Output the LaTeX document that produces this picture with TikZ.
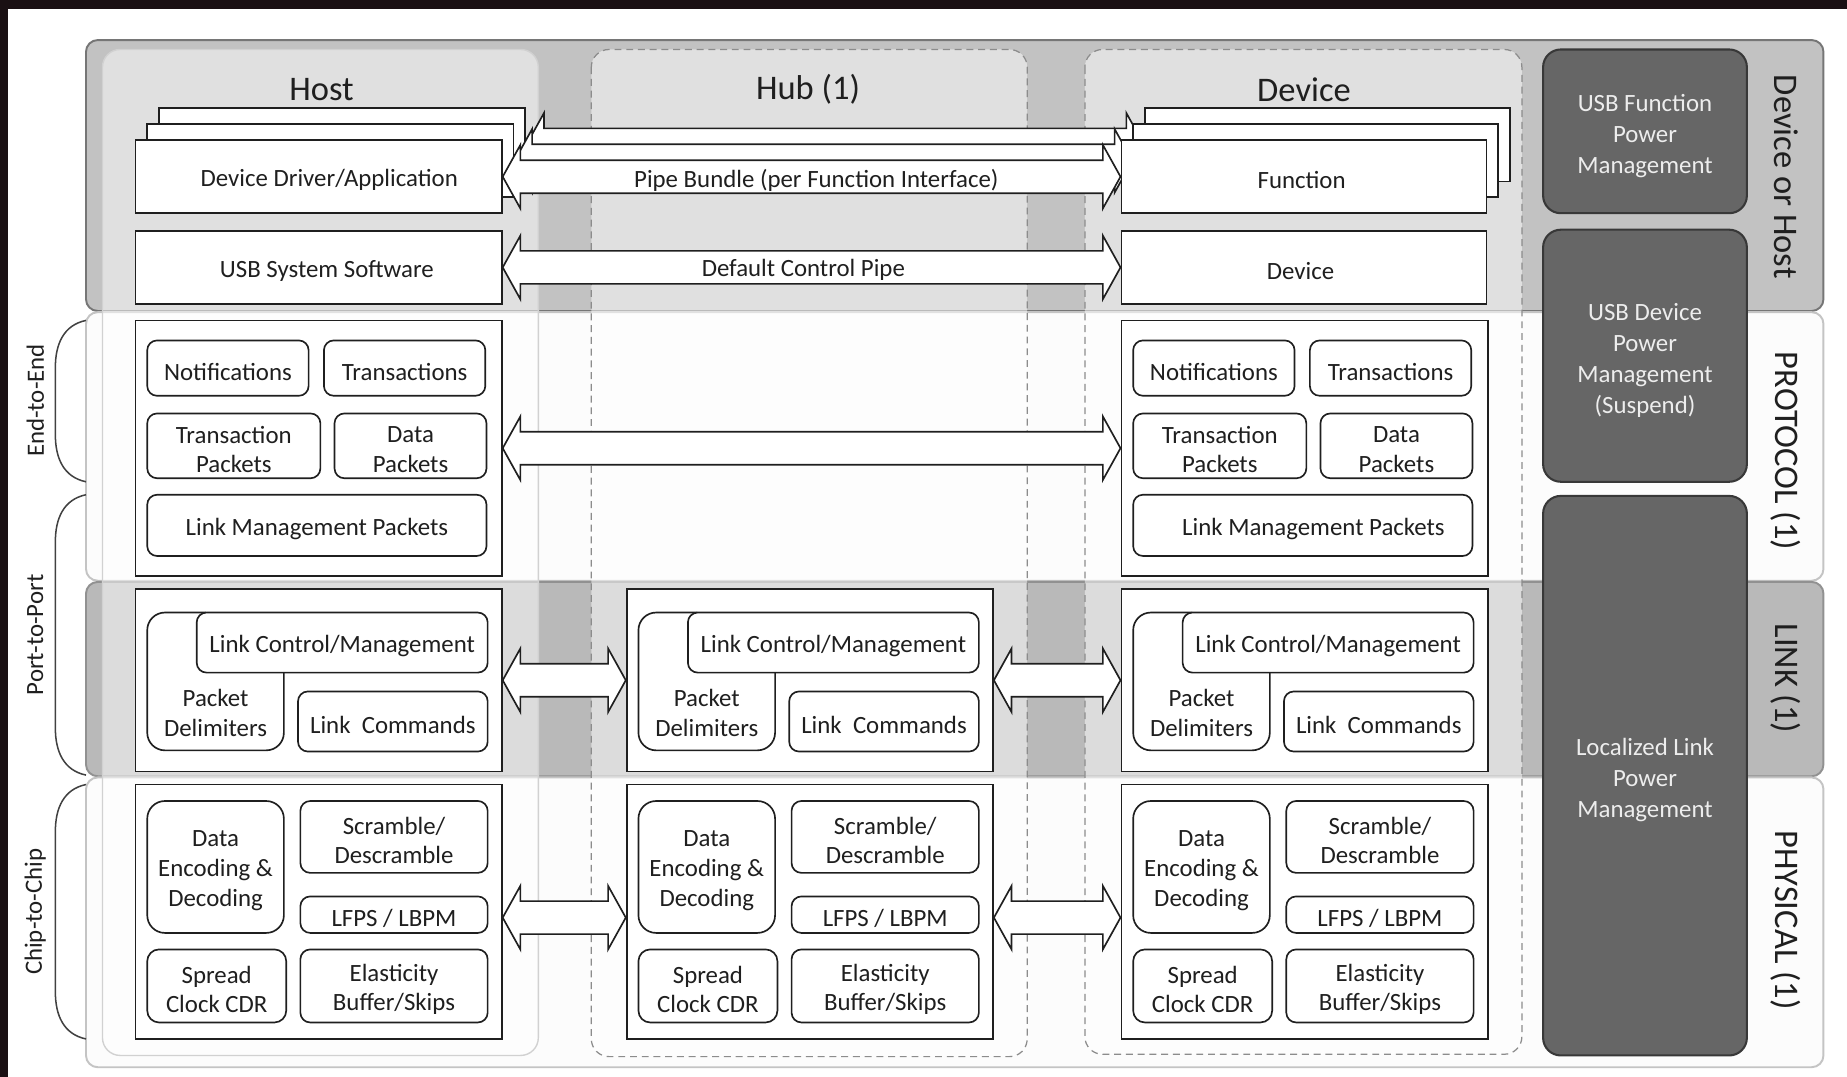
\documentclass[tikz,border=0pt]{standalone}
\usepackage{fontspec}
\setmainfont{Carlito}
\usetikzlibrary{calc}

\definecolor{pagedark}{HTML}{1A1013}
\definecolor{bandgray}{HTML}{C2C2C2}
\definecolor{linkgray}{HTML}{B9B9B9}
\definecolor{bandedge}{HTML}{767676}
\definecolor{paleband}{HTML}{FCFCFC}
\definecolor{paleedge}{HTML}{C4C4C4}
\definecolor{pmfill}{HTML}{666666}
\definecolor{pmedge}{HTML}{383838}
\definecolor{pmtext}{HTML}{EDEDED}
\definecolor{ink}{HTML}{1F1F1F}

% box from its corners (x1,y1)-(x2,y2) in picture units; its text sits
% slightly below the centre, shifted right by #7 units
\newcommand\pbox[8][]{%
  \node[#1, minimum width={((#5)-(#3))*0.03cm}, minimum height={((#6)-(#4))*0.03cm}]
    (#2) at ({((#3)+(#5))/2},{((#4)+(#6))/2}) {};
  \node[boxtext] (#2txt) at ($(#2.center)+(#7,3)$) {#8};}

% dark power-management block with its label
\newcommand\pmblock[6]{%
  \node[pmbox, minimum width={((#4)-(#2))*0.03cm}, minimum height={((#5)-(#3))*0.03cm}]
    (#1) at ({((#2)+(#4))/2},{((#3)+(#5))/2}) {};
  \node[pmlabel] (#1txt) at ($(#1.center)+(0,4)$) {#6};}

% double-headed block arrow between two anchors
\def\arrHl{0.45cm}\def\arrHh{0.81cm}\def\arrSh{0.42cm}
\newcommand\dblarrow[2]{%
  \draw[pipearrow] let \p1=(#1), \p2=(#2) in
    (\x1,\y1) -- (\x1+\arrHl,\y1+\arrHh) -- (\x1+\arrHl,\y1+\arrSh)
    -- (\x2-\arrHl,\y1+\arrSh) -- (\x2-\arrHl,\y1+\arrHh) -- (\x2,\y1)
    -- (\x2-\arrHl,\y1-\arrHh) -- (\x2-\arrHl,\y1-\arrSh)
    -- (\x1+\arrHl,\y1-\arrSh) -- (\x1+\arrHl,\y1-\arrHh) -- cycle;}

% protocol layer block, x offset #2, shift of the last label #3
\newcommand\protocolstack[3]{%
  \pbox[wbox]{#1Prot}{115+#2}{272}{426+#2}{489}{0}{}
  \pbox[rbox]{#1Notif}{125+#2}{289}{262+#2}{336}{0}{Notifications}
  \pbox[rbox]{#1Trans}{275+#2}{289}{412+#2}{336}{0}{Transactions}
  \pbox[rbox]{#1TP}{125+#2}{351}{272+#2}{406}{0}{Transaction\\Packets}
  \pbox[rbox]{#1DP}{284+#2}{351}{413+#2}{406}{0}{Data\\Packets}
  \pbox[rbox]{#1LMP}{125+#2}{420}{413+#2}{472}{#3}{Link Management Packets}}

% link layer block
\newcommand\linkstack[2]{%
  \pbox[wbox]{#1Link}{115+#2}{500}{426+#2}{655}{0}{}
  \draw[draw=ink, line width=1.2pt, rounded corners=0.45cm]
    ({175+#2},520) -- ({125+#2},520) -- ({125+#2},637) -- ({241+#2},637) -- ({241+#2},571);
  \pbox[rbox]{#1LCM}{167+#2}{520}{414+#2}{571}{0}{Link Control/Management}
  \node[boxtext] (#1PD) at ({183+#2},605) {Packet\\Delimiters};
  \pbox[rbox]{#1LC}{253+#2}{587}{414+#2}{638}{0}{Link\ \ Commands}}

% physical layer block
\newcommand\physstack[2]{%
  \pbox[wbox]{#1Phy}{115+#2}{666}{426+#2}{882}{0}{}
  \pbox[rbox, rounded corners=0.45cm]{#1Enc}{125+#2}{680}{241+#2}{792}{0}{Data\\Encoding \&\\Decoding}
  \pbox[rbox]{#1Scr}{255+#2}{680}{414+#2}{741}{0}{Scramble/\\Descramble}
  \pbox[rbox]{#1LF}{255+#2}{761}{414+#2}{792}{0}{LFPS / LBPM}
  \pbox[rbox, rounded corners=0.3cm]{#1CDR}{125+#2}{806}{243+#2}{868}{0}{Spread\\Clock CDR}
  \pbox[rbox]{#1Ela}{255+#2}{806}{414+#2}{868}{0}{Elasticity\\Buffer/Skips}}

\begin{document}
\begin{tikzpicture}[x=0.03cm, y=-0.03cm,
  body/.style={font=\fontsize{18}{21.5}\selectfont, text=ink},
  boxtext/.style={body, align=center, inner sep=0pt},
  titletext/.style={font=\fontsize{25}{30}\selectfont, text=ink},
  sidetext/.style={font=\fontsize{25}{30}\selectfont, text=ink},
  wbox/.style={draw=ink, line width=1.3pt, fill=white, inner sep=0pt},
  rbox/.style={wbox, line width=1.2pt, rounded corners=0.25cm},
  pmbox/.style={draw=pmedge, line width=1.5pt, fill=pmfill, rounded corners=0.45cm, inner sep=0pt},
  pmlabel/.style={text=pmtext, font=\fontsize{18}{22.5}\selectfont, align=center, inner sep=0pt},
  pipearrow/.style={draw=ink, line width=1.2pt, fill=white, line join=miter},
  brace/.style={draw=ink!85, line width=1.1pt},
  band/.style={rounded corners=0.3cm, line width=1.4pt},
  hostcol/.style={rounded corners=0.45cm, fill=white, fill opacity=0.5, draw=black!18, line width=1pt},
  devcol/.style={rounded corners=0.45cm, fill=white, fill opacity=0.5, draw=black!45,
    line width=0.9pt, dash pattern=on 5pt off 3.5pt},
]
\useasboundingbox (0,0) rectangle (1568,914);
\fill[pagedark] (0,0) rectangle (1568,914);
\fill[white] (7,8) rectangle (1568,914);

% horizontal layer bands
\draw[band, fill=bandgray, draw=bandedge] (73,34) rectangle (1548,264);
\draw[band, fill=paleband, draw=paleedge] (73,265) rectangle (1548,493);
\draw[band, fill=linkgray, draw=bandedge!80] (73,494) rectangle (1548,659);
\draw[band, fill=paleband, draw=paleedge] (73,660) rectangle (1548,906);

% columns
\draw[hostcol] (87,42) rectangle (457,896);
\draw[devcol] (502,42) rectangle (872,897);
\draw[devcol] (921,42) rectangle (1292,895);

% layer names
\node[sidetext, rotate=-90] (lblHost) at (1516,150) {Device or Host};
\node[sidetext, rotate=-90] (lblProt) at (1516,383) {PROTOCOL (1)};
\node[sidetext, rotate=-90] (lblLink) at (1516,576) {LINK (1)};
\node[sidetext, rotate=-90] (lblPhys) at (1516,781) {PHYSICAL (1)};

% scope brackets
\node[body, rotate=90] (lblE2E) at (30,340) {End-to-End};
\node[body, rotate=90] (lblP2P) at (30,539) {Port-to-Port};
\node[body, rotate=90] (lblC2C) at (30,774) {Chip-to-Chip};
\draw[brace] (73,272) .. controls (54,276) and (47,292) .. (47,312) -- (47,369)
  .. controls (47,389) and (54,405) .. (73,409);
\draw[brace] (73,420) .. controls (54,424) and (47,440) .. (47,460) -- (47,618)
  .. controls (47,638) and (54,654) .. (73,658);
\draw[brace] (73,666) .. controls (54,670) and (47,686) .. (47,706) -- (47,842)
  .. controls (47,862) and (54,878) .. (73,882);

% power management blocks
\pmblock{pmFunc}{1310}{42}{1483}{181}{USB Function\\Power\\Management}
\pmblock{pmDev}{1310}{195}{1483}{409}{USB Device\\Power\\Management\\(Suspend)}
\pmblock{pmLink}{1310}{421}{1483}{896}{Localized Link\\Power\\Management}

% column titles
\node[titletext] (tHost) at (273,76) {Host};
\node[titletext] (tHub) at (686,76) {Hub (1)};
\node[titletext] (tDev) at (1107,76) {Device};

% pipe bundle: stacked copies behind the front pair
\foreach \k in {2,1}{
  \pbox[wbox]{hostDD\k}{115+10*\k}{119-13.5*\k}{426+10*\k}{181-13.5*\k}{0}{}
  \pbox[wbox]{devF\k}{952+10*\k}{119-13.5*\k}{1262+10*\k}{181-13.5*\k}{0}{}
  \dblarrow{hostDD\k.east}{devF\k.west}
}
\pbox[wbox]{hostDD}{115}{119}{426}{181}{9}{Device Driver/Application}
\pbox[wbox]{devF}{952}{119}{1262}{181}{-2}{Function}
\dblarrow{hostDD.east}{devF.west}
\node[body] (lblPipe) at (693,153) {Pipe Bundle (per Function Interface)};

\pbox[wbox]{hostSW}{115}{196}{426}{258}{7}{USB System Software}
\pbox[wbox]{devD}{952}{196}{1262}{258}{-3}{Device}
\dblarrow{hostSW.east}{devD.west}
\node[body] (lblDCP) at (682,229) {Default Control Pipe};

% protocol
\protocolstack{host}{0}{0}
\protocolstack{dev}{837}{9}
\dblarrow{hostProt.east}{devProt.west}

% link
\linkstack{host}{0}
\linkstack{hub}{417}
\linkstack{dev}{837}
\dblarrow{hostLink.east}{hubLink.west}
\dblarrow{hubLink.east}{devLink.west}

% physical
\physstack{host}{0}
\physstack{hub}{417}
\physstack{dev}{837}
\dblarrow{$(hostPhy.east)+(0,5)$}{hubPhy.west}
\dblarrow{$(hubPhy.east)+(0,5)$}{devPhy.west}
\end{tikzpicture}
\end{document}
